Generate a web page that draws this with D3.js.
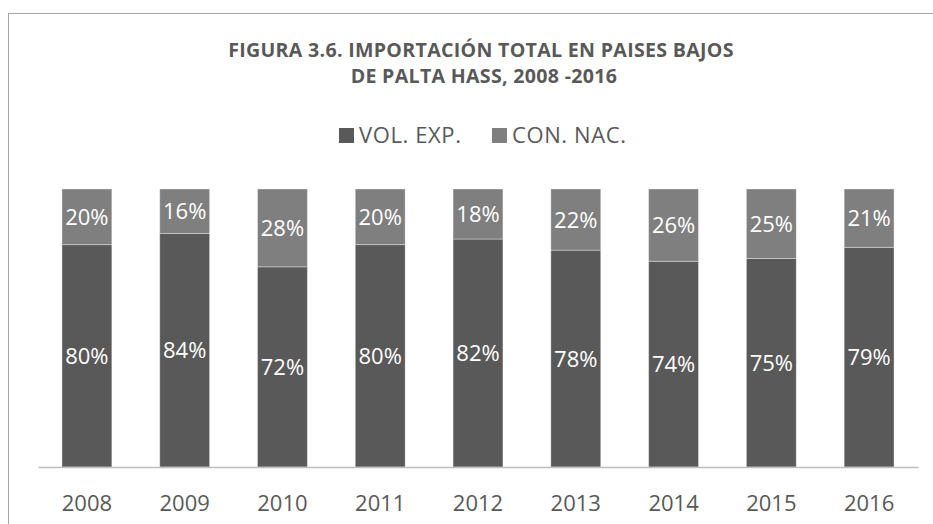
<!DOCTYPE html>
<html>
<head>
<meta charset="utf-8">
<script src="https://cdn.jsdelivr.net/npm/d3@7"></script>
<style>
  body { margin: 0; background: #fff; }
  svg { display: block; }
</style>
</head>
<body>
<svg id="chart"></svg>
<script>
const years = ["2008", "2009", "2010", "2011", "2012", "2013", "2014", "2015", "2016"];
const volExp = [80, 84, 72, 80, 82, 78, 74, 75, 79];
const conNac = [20, 16, 28, 20, 18, 22, 26, 25, 21];
const seriesNames = ["VOL. EXP.", "CON. NAC."];
const titleLines = ["FIGURA 3.6. IMPORTACIÓN TOTAL EN PAISES BAJOS", "DE PALTA HASS, 2008 -2016"];

const width = 933;
const height = 524;
const colors = ["#595959", "#7f7f7f"];
const textColor = "#595959";
const font = "'Open Sans', 'Liberation Sans', sans-serif";

const rows = years.map((y, i) => ({year: y, "VOL. EXP.": volExp[i], "CON. NAC.": conNac[i]}));
const stack = d3.stack().keys(seriesNames).offset(d3.stackOffsetExpand);
const series = stack(rows);

const svg = d3.select("#chart")
    .attr("width", width)
    .attr("height", height)
    .style("font-family", font);

// chart frame (right and bottom edges are cut off in the original)
svg.append("rect")
    .attr("x", 8.5)
    .attr("y", 13.5)
    .attr("width", 960)
    .attr("height", 560)
    .attr("fill", "none")
    .attr("stroke", "#a6a6a6")
    .attr("stroke-width", 1);

const x = d3.scaleBand()
    .domain(years)
    .range([38, 918])
    .paddingInner(0.49)
    .paddingOuter(0.245);

const y = d3.scaleLinear()
    .domain([0, 1])
    .range([467, 189]);

// title
svg.append("g")
    .selectAll("text")
    .data(titleLines)
    .join("text")
    .attr("x", (d, i) => i ? 484 : 481)
    .attr("y", (d, i) => 57 + i * 26)
    .attr("text-anchor", "middle")
    .attr("fill", textColor)
    .style("font-weight", "bold")
    .style("font-size", "19.6px")
    .style("letter-spacing", "0.3px")
    .text(d => d);

// legend
const legendX = [339, 492];
const legend = svg.append("g")
    .selectAll("g")
    .data(seriesNames)
    .join("g")
    .attr("transform", (d, i) => `translate(${legendX[i]},128)`);

legend.append("rect")
    .attr("width", 15)
    .attr("height", 15)
    .attr("fill", (d, i) => colors[i]);

legend.append("text")
    .attr("x", 20)
    .attr("y", 7.5)
    .attr("dy", "0.36em")
    .attr("fill", textColor)
    .style("font-size", "22px")
    .style("letter-spacing", "0.6px")
    .text(d => d);

// bars
const layer = svg.append("g")
    .selectAll("g")
    .data(series)
    .join("g")
    .attr("fill", (d, i) => colors[i]);

layer.selectAll("rect")
    .data(d => d)
    .join("rect")
    .attr("x", d => x(d.data.year))
    .attr("y", d => y(d[1]))
    .attr("width", x.bandwidth())
    .attr("height", d => y(d[0]) - y(d[1]))
    .attr("stroke", "#ffffff")
    .attr("stroke-opacity", 0.35)
    .attr("stroke-width", 1);

// value labels
layer.selectAll("text")
    .data(d => d.map(v => ({v, key: d.key})))
    .join("text")
    .attr("x", d => x(d.v.data.year) + x.bandwidth() / 2)
    .attr("y", d => (y(d.v[0]) + y(d.v[1])) / 2)
    .attr("dy", "0.36em")
    .attr("text-anchor", "middle")
    .attr("fill", "#ffffff")
    .style("font-size", "22px")
    .text(d => d.v.data[d.key] + "%");

// x axis
const xAxis = svg.append("g")
    .attr("transform", "translate(0,467)")
    .call(d3.axisBottom(x).tickSize(0).tickSizeOuter(0).tickPadding(28));

xAxis.select(".domain")
    .attr("stroke", "#bfbfbf")
    .attr("stroke-width", 1.3);

xAxis.selectAll("text")
    .attr("fill", textColor)
    .style("font-family", font)
    .style("font-size", "22px");
</script>
</body>
</html>
